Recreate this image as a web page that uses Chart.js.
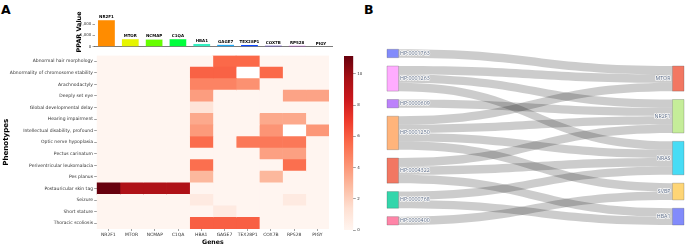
<!DOCTYPE html>
<html>
<head>
<meta charset="utf-8">
<script src="https://cdn.jsdelivr.net/npm/chart.js@4.4.1/dist/chart.umd.min.js"></script>
<style>
  html, body { margin: 0; padding: 0; background: #fff; }
  #page { position: relative; width: 685px; height: 246px; overflow: hidden; }
  canvas { position: absolute; }
  .panel { position: absolute; font: bold 12.5px "DejaVu Sans", sans-serif; color: #000; }
</style>
</head>
<body>
<div id="page">
  <div class="panel" style="left:1px; top:2px;">A</div>
  <div class="panel" style="left:364px; top:2px;">B</div>
  <canvas id="barChart" width="345" height="58" style="left:0; top:0;"></canvas>
  <canvas id="heatChart" width="340" height="196" style="left:0; top:50px;"></canvas>
  <canvas id="cbarChart" width="40" height="196" style="left:336px; top:50px;"></canvas>
  <canvas id="sankeyChart" width="315" height="246" style="left:370px; top:0;"></canvas>
</div>
<script>
///////////////////////
// data
///////////////////////
const genes = ['NR2F1', 'MTOR', 'NCMAP', 'C1QA', 'HBA1', 'GAGE7', 'TEX28P1', 'COX7B', 'RPS28', 'PIGY'];
const pparValues = [2360, 680, 660, 680, 265, 200, 170, 120, 100, 30];
const pparTicks = [0, 1000, 2000];
const geneColors = ['#ff8c00', '#e6f500', '#66ff00', '#00ff3c', '#33f0c0', '#1fa8f5', '#0a46ff', '#4a22f0', '#c424f0', '#f7a6d8'];

const phenotypes = [
    'Abnormal hair morphology',
    'Abnormality of chromosome stability',
    'Arachnodactyly',
    'Deeply set eye',
    'Global developmental delay',
    'Hearing impairment',
    'Intellectual disability, profound',
    'Optic nerve hypoplasia',
    'Pectus carinatum',
    'Periventricular leukomalacia',
    'Pes planus',
    'Postauricular skin tag',
    'Seizure',
    'Short stature',
    'Thoracic scoliosis'
];
// one row per phenotype, one column per gene (null = empty cell)
const scores = [
    [0, 0, 0, 0, 0, 5.6, 5.6, 0, 0, 0],
    [0, 0, 0, 0, 5.8, 5.8, null, 5.6, 0, 0],
    [0, 0, 0, 0, 4.7, 4.7, 4.2, 0, 0, 0],
    [0, 0, 0, 0, 3.8, 0, 0, 0, 3.6, 3.6],
    [0, 0, 0, 0, 1.1, 0, 0, 0, 0, 0],
    [0, 0, 0, 0, 3.4, 0, 0, 3.4, 3.4, 0],
    [0, 0, 0, 0, 3.9, 0, 0, 4.1, null, 4.0],
    [0, 0, 0, 0, 5.5, 0, 5.1, 5.1, 5.1, 0],
    [0, 0, 0, 0, 0, 0, 0, 3.7, 3.7, 0],
    [0, 0, 0, 0, 5.4, 0, 0, 0, 5.4, 0],
    [0, 0, 0, 0, 2.9, 0, 0, 2.9, 0, 0],
    [11.15, 9.4, 9.4, 9.4, 0, 0, 0, 0, 0, 0],
    [0, 0, 0, 0, 0.7, 0, 0, 0, 0.7, 0],
    [0, 0, 0, 0, 0, 0.7, 0, 0, 0, 0],
    [0, 0, 0, 0, 5.9, 5.9, 5.9, 0, 0, 0]
];
const cbarTicks = [0, 2, 4, 6, 8, 10];

const leftNodes = ['HP:0001763', 'HP:0001263', 'HP:0000609', 'HP:0001250', 'HP:0004322', 'HP:0000768', 'HP:0000400'];
const leftColors = ['#636efa', '#ff97ff', '#ab63fa', '#ffa15a', '#ef553b', '#00cc96', '#ff6692'];
const rightNodes = ['MTOR', 'NR2F1', 'NRAS', 'SVBP', 'HBA1'];
const rightColors = ['#ef553b', '#b6e880', '#19d3f3', '#fecb52', '#636efa'];
const linkSource = [0, 1, 1, 1, 2, 3, 3, 3, 3, 4, 4, 4, 5, 5, 6];
const linkTarget = [0, 0, 1, 2, 1, 0, 1, 2, 3, 1, 2, 4, 2, 4, 3];
const linkValue  = [1, 1, 1, 1, 1, 1, 1, 1, 1, 1, 1, 1, 1, 1, 1];

///////////////////////
// helpers
///////////////////////
const FONT = '"DejaVu Sans", sans-serif';
const redsStops = ['#fff5f0', '#fee0d2', '#fcbba1', '#fc9272', '#fb6a4a', '#ef3b2c', '#cb181d', '#a50f15', '#67000d'];
const vmax = Math.max(...scores.flat().filter(v => v !== null));

function hexToRgb(h) {
    return [1, 3, 5].map(i => parseInt(h.slice(i, i + 2), 16));
}

function redsColor(t) {
    t = Math.min(1, Math.max(0, t));
    const p = t * (redsStops.length - 1);
    const i = Math.min(Math.floor(p), redsStops.length - 2);
    const f = p - i;
    const a = hexToRgb(redsStops[i]), b = hexToRgb(redsStops[i + 1]);
    const c = a.map((v, k) => Math.round(v + (b[k] - v) * f));
    return `rgb(${c[0]},${c[1]},${c[2]})`;
}

function cellColor(v) {
    return v === null ? '#ffffff' : redsColor(v / vmax);
}

function withAlpha(hex, a) {
    const [r, g, b] = hexToRgb(hex);
    return `rgba(${r},${g},${b},${a})`;
}

///////////////////////
// A: PPAR bar chart
///////////////////////
const barLabelPlugin = {
    id: 'barLabels',
    afterDatasetsDraw(chart) {
        const ctx = chart.ctx;
        ctx.save();
        ctx.font = `bold 4px ${FONT}`;
        ctx.fillStyle = '#000';
        ctx.textAlign = 'center';
        ctx.textBaseline = 'bottom';
        chart.getDatasetMeta(0).data.forEach((bar, i) => {
            ctx.fillText(genes[i], bar.x, bar.y - 0.8);
        });
        ctx.restore();
    }
};

new Chart(document.getElementById('barChart'), {
    type: 'bar',
    data: {
        labels: genes,
        datasets: [{
            data: pparValues,
            backgroundColor: geneColors,
            borderColor: 'rgba(0,0,0,0.15)',
            borderWidth: 0.3,
            barPercentage: 0.73,
            categoryPercentage: 1
        }]
    },
    options: {
        responsive: false,
        animation: false,
        layout: { padding: { left: 76, right: 12.1, top: 17.2, bottom: 11.3 } },
        plugins: { legend: { display: false }, tooltip: { enabled: false } },
        scales: {
            x: {
                ticks: { display: false },
                grid: { display: false },
                border: { display: true, color: '#444', width: 0.7 },
                afterFit: s => { s.height = 0; }
            },
            y: {
                min: 0,
                max: 2600,
                afterBuildTicks: s => { s.ticks = pparTicks.map(v => ({ value: v })); },
                ticks: { font: { family: FONT, size: 4 }, color: '#333', padding: 1.2 },
                grid: { drawOnChartArea: false, tickLength: 2, color: '#444', lineWidth: 0.5 },
                border: { display: false },
                title: { display: true, text: 'PPAR Value', font: { family: FONT, size: 6.4, weight: 'bold' }, color: '#000', padding: 0 },
                afterFit: s => { s.width = 18.5; }
            }
        }
    },
    plugins: [barLabelPlugin]
});

///////////////////////
// A: heatmap (stacked horizontal bars, one cell per segment)
///////////////////////
new Chart(document.getElementById('heatChart'), {
    type: 'bar',
    data: {
        labels: phenotypes,
        datasets: genes.map((g, j) => ({
            label: g,
            data: phenotypes.map(() => 1),
            backgroundColor: scores.map(row => cellColor(row[j])),
            borderWidth: 0,
            barPercentage: 1,
            categoryPercentage: 1
        }))
    },
    options: {
        indexAxis: 'y',
        responsive: false,
        animation: false,
        layout: { padding: { left: 1.5, right: 11, top: 5.5, bottom: 0 } },
        plugins: { legend: { display: false }, tooltip: { enabled: false } },
        scales: {
            x: { stacked: true, min: 0, max: genes.length, display: false },
            y: {
                stacked: true,
                ticks: { font: { family: FONT, size: 4.5 }, color: '#333', padding: 1.2 },
                grid: { offset: false, drawOnChartArea: false, tickLength: 2.5, color: '#444', lineWidth: 0.5 },
                border: { display: false },
                title: { display: true, text: 'Phenotypes', font: { family: FONT, size: 7.1, weight: 'bold' }, color: '#000', padding: 0 },
                afterFit: s => { s.width = 95.2; }
            },
            gx: {
                type: 'category',
                labels: genes,
                position: 'bottom',
                offset: true,
                ticks: { font: { family: FONT, size: 4.5 }, color: '#333', padding: 1.3, maxRotation: 0, autoSkip: false },
                grid: { offset: false, drawOnChartArea: false, tickLength: 2, color: '#444', lineWidth: 0.5 },
                border: { display: false },
                title: { display: true, text: 'Genes', font: { family: FONT, size: 6.2, weight: 'bold' }, color: '#000', padding: 0 },
                afterFit: s => { s.height = 17; }
            }
        }
    }
});

///////////////////////
// A: colour bar
///////////////////////
new Chart(document.getElementById('cbarChart'), {
    type: 'bar',
    data: {
        labels: [''],
        datasets: [{
            data: [[0, vmax]],
            backgroundColor: context => {
                const area = context.chart.chartArea;
                if (!area) return redsStops[0];
                const g = context.chart.ctx.createLinearGradient(0, area.bottom, 0, area.top);
                redsStops.forEach((c, i) => g.addColorStop(i / (redsStops.length - 1), c));
                return g;
            },
            borderWidth: 0,
            barPercentage: 1,
            categoryPercentage: 1
        }]
    },
    options: {
        responsive: false,
        animation: false,
        layout: { padding: { left: 8, right: 0, top: 6, bottom: 16 } },
        plugins: { legend: { display: false }, tooltip: { enabled: false } },
        scales: {
            x: { display: false },
            y: {
                position: 'right',
                min: 0,
                max: vmax,
                afterBuildTicks: s => { s.ticks = cbarTicks.map(v => ({ value: v })); },
                ticks: { font: { family: FONT, size: 4 }, color: '#333', padding: 1.5 },
                grid: { drawOnChartArea: false, tickLength: 2.5, color: '#444', lineWidth: 0.5 },
                border: { display: false },
                afterFit: s => { s.width = 22.7; }
            }
        }
    }
});

///////////////////////
// B: sankey (nodes and ribbons drawn through the chart's scales)
///////////////////////
function buildSankey() {
    const gap = 1;
    const place = (names, links, key) => {
        const sizes = names.map((_, i) => links.filter(l => l[key] === i).reduce((s, l) => s + l.value, 0));
        const total = sizes.reduce((a, b) => a + b, 0) + gap * (names.length - 1);
        let top = total;
        return sizes.map(size => {
            const n = { top, bottom: top - size };
            top -= size + gap;
            return n;
        });
    };
    const links = linkSource.map((s, i) => ({ source: s, target: linkTarget[i], value: linkValue[i] }));
    const lNodes = place(leftNodes, links, 'source');
    const rNodes = place(rightNodes, links, 'target');
    const mid = n => (n.top + n.bottom) / 2;

    lNodes.forEach((node, i) => {
        let y = node.top;
        links.filter(l => l.source === i)
            .sort((a, b) => mid(rNodes[b.target]) - mid(rNodes[a.target]))
            .forEach(l => { l.y0 = y; y -= l.value; });
    });
    rNodes.forEach((node, i) => {
        let y = node.top;
        links.filter(l => l.target === i)
            .sort((a, b) => mid(lNodes[b.source]) - mid(lNodes[a.source]))
            .forEach(l => { l.y1 = y; y -= l.value; });
    });
    return { links, lNodes, rNodes };
}

const sankey = buildSankey();
const NODE_W = 11.5;

const sankeyPlugin = {
    id: 'sankey',
    afterDraw(chart) {
        const { ctx, scales: { x, y } } = chart;
        const xl = x.getPixelForValue(0), xr = x.getPixelForValue(1);
        const x0 = xl + NODE_W, x1 = xr - NODE_W, xm = (x0 + x1) / 2;
        ctx.save();

        // ribbons
        ctx.fillStyle = 'rgba(0,0,0,0.2)';
        sankey.links.forEach(l => {
            const a0 = y.getPixelForValue(l.y0), b0 = y.getPixelForValue(l.y0 - l.value);
            const a1 = y.getPixelForValue(l.y1), b1 = y.getPixelForValue(l.y1 - l.value);
            ctx.beginPath();
            ctx.moveTo(x0, a0);
            ctx.bezierCurveTo(xm, a0, xm, a1, x1, a1);
            ctx.lineTo(x1, b1);
            ctx.bezierCurveTo(xm, b1, xm, b0, x0, b0);
            ctx.closePath();
            ctx.fill();
        });

        // nodes
        const drawNode = (n, left, color) => {
            const t = y.getPixelForValue(n.top), b = y.getPixelForValue(n.bottom);
            ctx.fillStyle = withAlpha(color, 0.8);
            ctx.fillRect(left, t, NODE_W, b - t);
            ctx.strokeStyle = 'rgba(68,68,68,0.5)';
            ctx.lineWidth = 0.5;
            ctx.strokeRect(left, t, NODE_W, b - t);
            return (t + b) / 2;
        };

        ctx.font = '5.3px "Open Sans", sans-serif';
        ctx.textBaseline = 'middle';
        ctx.lineJoin = 'round';
        const label = (text, px, py, align) => {
            ctx.textAlign = align;
            ctx.strokeStyle = 'rgba(255,255,255,0.9)';
            ctx.lineWidth = 1.4;
            ctx.strokeText(text, px, py);
            ctx.fillStyle = '#5a6a85';
            ctx.fillText(text, px, py);
        };

        sankey.lNodes.forEach((n, i) => {
            const cy = drawNode(n, xl, leftColors[i]);
            label(leftNodes[i], xl + NODE_W + 1.5, cy, 'left');
        });
        sankey.rNodes.forEach((n, i) => {
            const cy = drawNode(n, xr - NODE_W, rightColors[i]);
            label(rightNodes[i], xr - NODE_W - 2, cy, 'right');
        });
        ctx.restore();
    }
};

new Chart(document.getElementById('sankeyChart'), {
    type: 'scatter',
    data: { datasets: [] },
    options: {
        responsive: false,
        animation: false,
        layout: { padding: { left: 17, right: 1, top: 49.3, bottom: 21 } },
        plugins: { legend: { display: false }, tooltip: { enabled: false } },
        scales: {
            x: { type: 'linear', min: 0, max: 1, display: false },
            y: { type: 'linear', min: 0, max: 21, display: false }
        }
    },
    plugins: [sankeyPlugin]
});
</script>
</body>
</html>
